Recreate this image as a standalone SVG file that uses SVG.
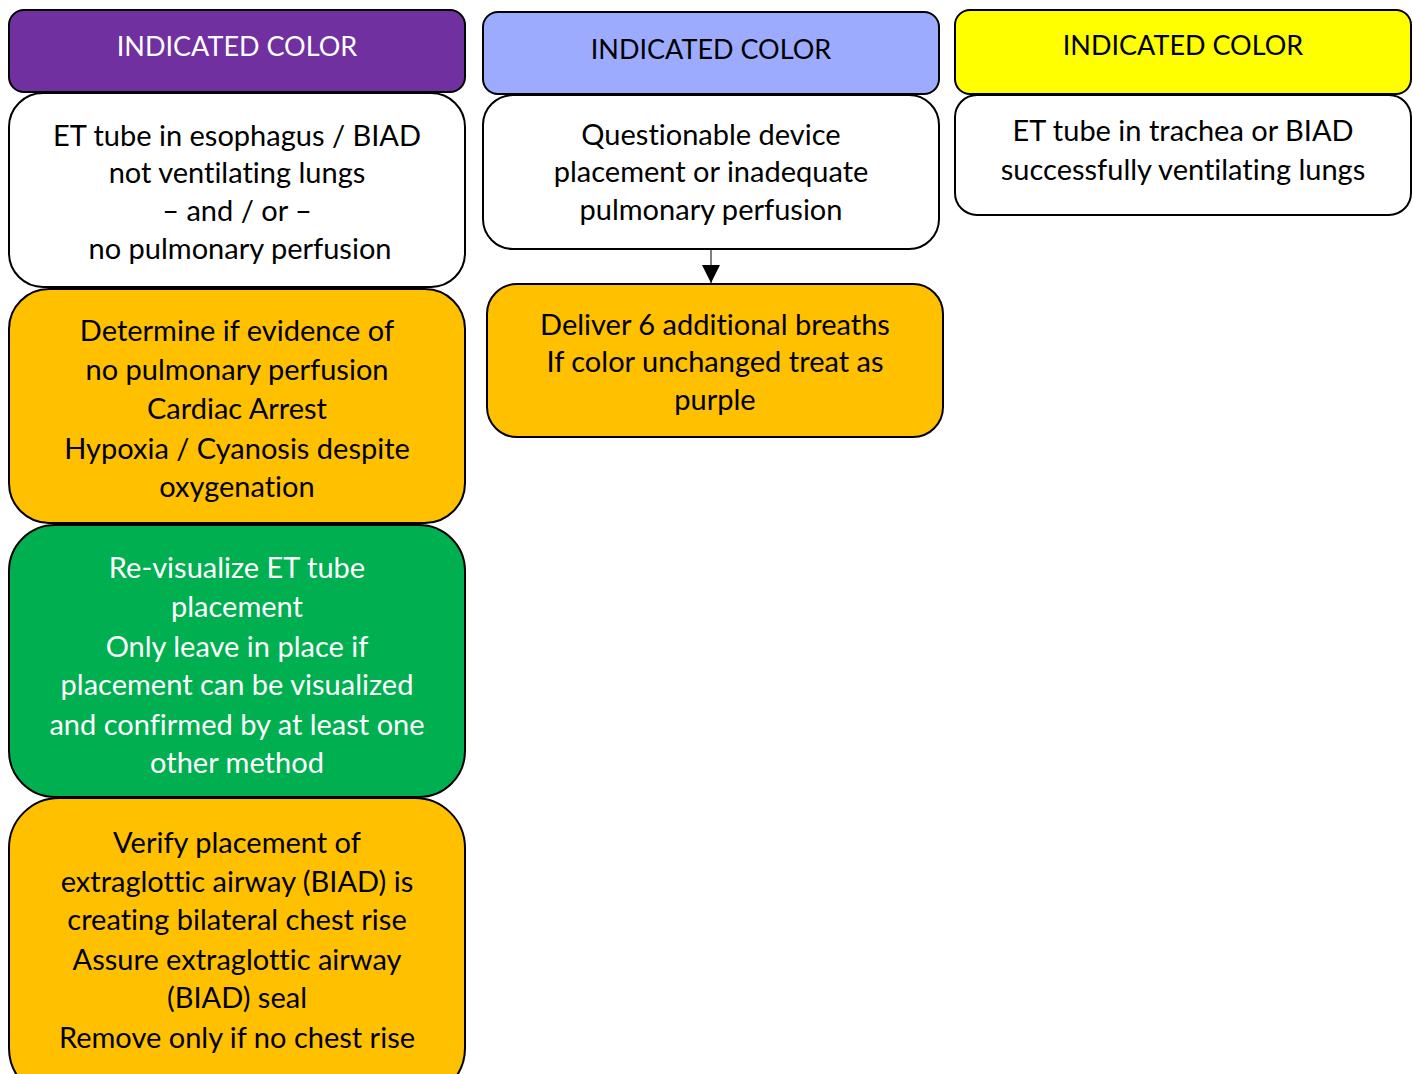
<svg xmlns="http://www.w3.org/2000/svg" width="1413" height="1074" viewBox="0 0 1413 1074">
<defs>
<style>
.box{stroke:#000;stroke-width:2}
.t{font-family:Lato,"Open Sans","Liberation Sans",sans-serif;font-size:29px;text-anchor:middle;fill:#000;font-variant-ligatures:none}
.h{font-size:27px}
.w{fill:#fff}
</style>
<marker id="ah" markerWidth="19" markerHeight="18" refX="18" refY="9" orient="auto" markerUnits="userSpaceOnUse">
<path d="M0,0 L18,9 L0,18 Z" fill="#000"/>
</marker>
</defs>
<rect width="1413" height="1074" fill="#fff"/>

<g id="connectors">
<line x1="711" y1="250" x2="711" y2="283" stroke="#808080" stroke-width="2" marker-end="url(#ah)"/>
</g>

<g id="purple-header">
<rect class="box" x="9" y="10" width="456" height="82" rx="15" fill="#7030A0"/>
<text class="t h w" x="237" y="56">INDICATED COLOR</text>
</g>
<g id="purple-desc">
<rect class="box" x="9" y="93" width="456" height="194" rx="34" fill="#fff"/>
<text class="t" x="237" y="146">ET tube in esophagus / BIAD</text>
<text class="t" x="237" y="183">not ventilating lungs</text>
<text class="t" x="237" y="221">– and / or –</text>
<text class="t" x="240" y="259">no pulmonary perfusion</text>
</g>
<g id="purple-determine">
<rect class="box" x="9" y="289" width="456" height="234" rx="40" fill="#FFC000"/>
<text class="t" x="237" y="341">Determine if evidence of</text>
<text class="t" x="237" y="380">no pulmonary perfusion</text>
<text class="t" x="237" y="419">Cardiac Arrest</text>
<text class="t" x="237" y="459">Hypoxia / Cyanosis despite</text>
<text class="t" x="237" y="497">oxygenation</text>
</g>
<g id="purple-revisualize">
<rect class="box" x="9" y="525" width="456" height="272" rx="46" fill="#00B050"/>
<text class="t w" x="237" y="578">Re-visualize ET tube</text>
<text class="t w" x="237" y="617">placement</text>
<text class="t w" x="237" y="657">Only leave in place if</text>
<text class="t w" x="237" y="695">placement can be visualized</text>
<text class="t w" x="237" y="735">and confirmed by at least one</text>
<text class="t w" x="237" y="773">other method</text>
</g>
<g id="purple-verify">
<rect class="box" x="9" y="798" width="456" height="300" rx="50" fill="#FFC000"/>
<text class="t" x="237" y="853">Verify placement of</text>
<text class="t" x="237" y="892">extraglottic airway (BIAD) is</text>
<text class="t" x="237" y="930">creating bilateral chest rise</text>
<text class="t" x="237" y="970">Assure extraglottic airway</text>
<text class="t" x="237" y="1008">(BIAD) seal</text>
<text class="t" x="237" y="1048">Remove only if no chest rise</text>
</g>

<g id="blue-header">
<rect class="box" x="483" y="12" width="456" height="82" rx="15" fill="#9DABFF"/>
<text class="t h" x="711" y="59">INDICATED COLOR</text>
</g>
<g id="blue-desc">
<rect class="box" x="483" y="95" width="456" height="154" rx="30" fill="#fff"/>
<text class="t" x="711" y="145">Questionable device</text>
<text class="t" x="711" y="182">placement or inadequate</text>
<text class="t" x="711" y="220">pulmonary perfusion</text>
</g>
<g id="blue-deliver">
<rect class="box" x="487" y="284" width="456" height="153" rx="30" fill="#FFC000"/>
<text class="t" x="715" y="335">Deliver 6 additional breaths</text>
<text class="t" x="715" y="372">If color unchanged treat as</text>
<text class="t" x="715" y="410">purple</text>
</g>

<g id="yellow-header">
<rect class="box" x="955" y="10" width="456" height="84" rx="15" fill="#FFFF00"/>
<text class="t h" x="1183" y="55">INDICATED COLOR</text>
</g>
<g id="yellow-desc">
<rect class="box" x="955" y="95" width="456" height="120" rx="22" fill="#fff"/>
<text class="t" x="1183" y="141">ET tube in trachea or BIAD</text>
<text class="t" x="1183" y="180">successfully ventilating lungs</text>
</g>
</svg>
